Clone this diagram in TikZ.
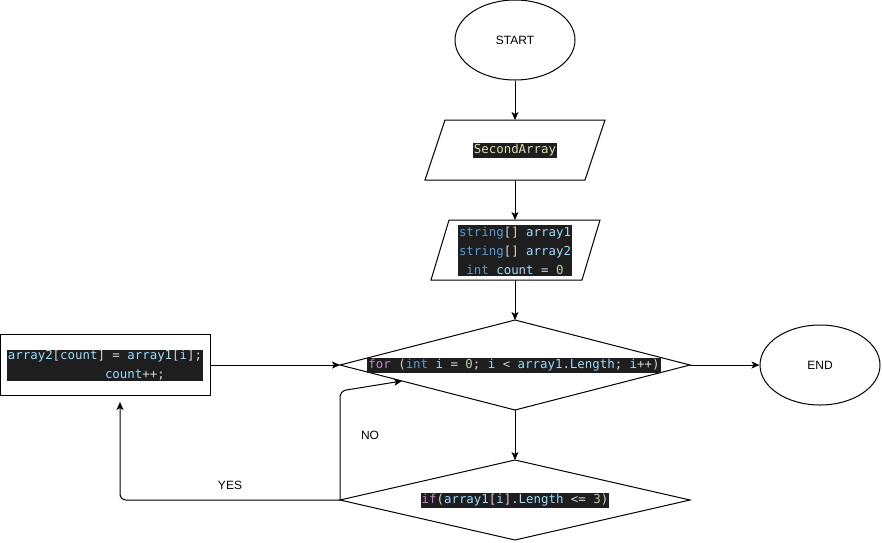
\documentclass[tikz,border=0pt]{standalone}
\usepackage{fontspec}
\setmainfont{Liberation Sans}
\newfontfamily\codefont{DejaVu Sans Mono}
\usetikzlibrary{arrows.meta,shapes.geometric}
\definecolor{codebg}{HTML}{1E1E1E}
\definecolor{ckw}{HTML}{569CD6}
\definecolor{cvar}{HTML}{9CDCFE}
\definecolor{cfn}{HTML}{DCDCAA}
\definecolor{cpun}{HTML}{D4D4D4}
\definecolor{cnum}{HTML}{B5CEA8}
\definecolor{cctl}{HTML}{C586C0}
\newcommand\tkw[1]{\textcolor{ckw}{#1}}
\newcommand\tvar[1]{\textcolor{cvar}{#1}}
\newcommand\tfn[1]{\textcolor{cfn}{#1}}
\newcommand\tnum[1]{\textcolor{cnum}{#1}}
\newcommand\tctl[1]{\textcolor{cctl}{#1}}
\begin{document}
\begin{tikzpicture}[x=1pt,y=-1pt,line width=1pt,
  term/.style={draw,ellipse,minimum width=120pt,minimum height=80pt,inner sep=0pt,font=\fontsize{12}{14}\selectfont},
  shapeline/.style={draw,line join=miter},
  code/.style={fill=codebg,text=cpun,inner xsep=1pt,inner ysep=1.5pt,font=\codefont\fontsize{12.4}{19}\selectfont},
  arr/.style={-{Stealth[length=8pt,width=7pt,inset=2pt]}},
  lbl/.style={font=\fontsize{12}{14}\selectfont,inner sep=0pt}]
\useasboundingbox (0,0) rectangle (882,542);

% START
\node[term] (start) at (515,40) {START};

% SecondArray parallelogram
\draw[shapeline] (445,120) -- (605,120) -- (585,180) -- (425,180) -- cycle;
\coordinate (p1t) at (515,120);
\coordinate (p1b) at (515,180);
\node[code] (sa) at (515,150) {\tfn{SecondArray}};

% declarations parallelogram
\draw[shapeline] (449,220) -- (600,220) -- (582,280) -- (431,280) -- cycle;
\coordinate (p2t) at (515,220);
\coordinate (p2b) at (515,280);
\node[code,align=center] (decl) at (515,250.5)
  {\tkw{string}[] \tvar{array1}\\\tkw{string}[] \tvar{array2}\\\tkw{int} \tvar{count} = \tnum{0}};

% for diamond
\draw[shapeline] (515,320) -- (690,365) -- (515,410) -- (340,365) -- cycle;
\coordinate (d1t) at (515,320);
\coordinate (d1r) at (690,365);
\coordinate (d1b) at (515,410);
\coordinate (d1l) at (340,365);
\coordinate (d1e) at (402,381);
\node[code] (fortxt) at (514,365.5)
  {\tctl{for} (\tkw{int} \tvar{i} = \tnum{0}; \tvar{i} < \tvar{array1}.\tvar{Length}; \tvar{i}++)};

% END
\node[term] (end) at (820,365) {END};

% left box
\node[draw,minimum width=210pt,minimum height=61pt,inner sep=0pt] (box) at (105.5,364.5) {};
\node[code,align=left,inner ysep=0.5pt] (boxtxt) at (105,365.5)
  {\tvar{array2}[\tvar{count}] = \tvar{array1}[\tvar{i}];\\\hphantom{xxxxxxxxxxxxx}\tvar{count}++;};
\coordinate (yesend) at (120,402);

% if diamond
\draw[shapeline] (515,460) -- (690,500) -- (515,540) -- (340,500) -- cycle;
\coordinate (d2t) at (515,460);
\coordinate (d2l) at (340,500);
\node[code] (iftxt) at (515,500.5)
  {\tctl{if}(\tvar{array1}[\tvar{i}].\tvar{Length} <= \tnum{3})};

% connectors
\draw[arr] (start.south) -- (p1t);
\draw[arr] (p1b) -- (p2t);
\draw[arr] (p2b) -- (d1t);
\draw[arr] (d1r) -- (end.west);
\draw[arr] (box.east |- d1l) -- (d1l);
\draw[arr] (d1b) -- (d2t);
\draw[arr,rounded corners=6pt] (d2l) -- (120,500) -- (yesend);
\draw[arr,rounded corners=6pt] (d2l) -- (340,391) -- (d1e);

% labels
\node[lbl] (yes) at (230,485) {YES};
\node[lbl] (no) at (370,435) {NO};
\end{tikzpicture}
\end{document}
